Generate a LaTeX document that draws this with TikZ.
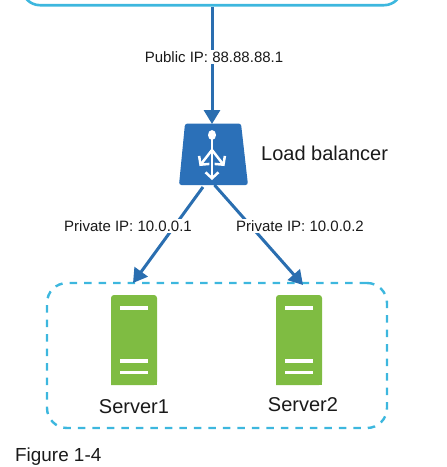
\documentclass[tikz,border=0pt]{standalone}
\usepackage{fontspec}
\setmainfont{Liberation Sans}
\usetikzlibrary{arrows.meta}
\definecolor{linkblue}{HTML}{2A6EB0}
\definecolor{lbblue}{HTML}{2B70B8}
\definecolor{boxcyan}{HTML}{3DB7DE}
\definecolor{srvgreen}{HTML}{7FBC42}
\definecolor{txt}{HTML}{1A1A1A}
\tikzset{
  x=1pt,y=-1pt,
  link/.style={draw=linkblue,line width=3pt,-{Triangle[length=14pt,width=16pt]}},
  iplabel/.style={fill=white,inner sep=1.5pt,text=txt,font=\fontsize{15}{18}\selectfont},
  biglabel/.style={text=txt,inner sep=0pt,font=\fontsize{20}{24}\selectfont},
  anchorbox/.style={draw=none,inner sep=0pt,minimum width=46pt,minimum height=90pt},
  srvbar/.style={fill=white,draw=none,minimum width=28pt,minimum height=3.6pt,inner sep=0pt},
  lbicon/.style={draw=white,line width=2.5pt,-{Straight Barb[length=6pt,width=13pt,line width=2.5pt]}},
}
\begin{document}
\begin{tikzpicture}
\useasboundingbox (0,0) rectangle (447,467);
% top box
\begin{scope}
\clip (0,0) rectangle (447,467);
\node[draw=boxcyan,line width=2.6pt,rounded corners=18pt,minimum width=380pt,minimum height=60pt,inner sep=0pt,anchor=south] (net) at (212,6.5) {};
\end{scope}
% load balancer
\fill[lbblue,rounded corners=2.5pt] (185,123.5) -- (241,123.5) -- (248,185) -- (179,185) -- cycle;
\node[draw=none,inner sep=0pt,minimum width=60pt,minimum height=61pt] (lb) at (213,154) {};
\coordinate (lbtop) at (212,124);
\coordinate (lbL) at (203,187);
\coordinate (lbR) at (214.5,185);
\coordinate (srvL) at (133,283);
\coordinate (srvR) at (303,285);
\coordinate (lbdot) at (212,135);
\coordinate (lbfork) at (212,150);
\coordinate (lbdown) at (212,180);
\fill[white] (lbdot) ellipse (4pt and 5pt);
\draw[white,line width=2.5pt] (lbdot) -- (lbfork);
\draw[lbicon] (lbfork) -- (lbdown);
\draw[lbicon] (lbfork) -- (199.5,166);
\draw[lbicon] (lbfork) -- (224.5,166);
% servers
\foreach \sx/\sn in {134/srv1,299/srv2}{
  \fill[srvgreen,rounded corners=3pt] (\sx-23,385) -- (\sx-23,295) -- (\sx+23,295) -- (\sx+23,385) [sharp corners] -- cycle;
  \fill[srvgreen] (\sx-23,375) rectangle (\sx+23,385);
  \node[anchorbox] (\sn) at (\sx,340) {};
  \node[srvbar] at (\sx,308) {};
  \node[srvbar] at (\sx,361) {};
  \node[srvbar] at (\sx,372.5) {};
}
% dashed group
\node[draw=boxcyan,line width=2.4pt,dash pattern=on 7.5pt off 7pt,rounded corners=20pt,minimum width=340pt,minimum height=145pt,inner sep=0pt] (group) at (217,355.5) {};
% connectors
\draw[link] (net.south) -- (lbtop);
\draw[link] (lbL) -- (srvL);
\draw[link] (lbR) -- (srvR);
\node[iplabel] (pub) at (214,57) {Public IP: 88.88.88.1};
\node[iplabel] (priv1) at (128,226) {Private IP: 10.0.0.1};
\node[iplabel] (priv2) at (300,226) {Private IP: 10.0.0.2};
% text
\node[biglabel,anchor=west] (lbname) at (261,153) {Load balancer};
\node[biglabel] (s1name) at (134,407) {Server1};
\node[biglabel] (s2name) at (303,405) {Server2};
\node[text=txt,inner sep=0pt,font=\fontsize{18.9}{22}\selectfont,anchor=west] (fig) at (15,457) {Figure 1-4};
\end{tikzpicture}
\end{document}
